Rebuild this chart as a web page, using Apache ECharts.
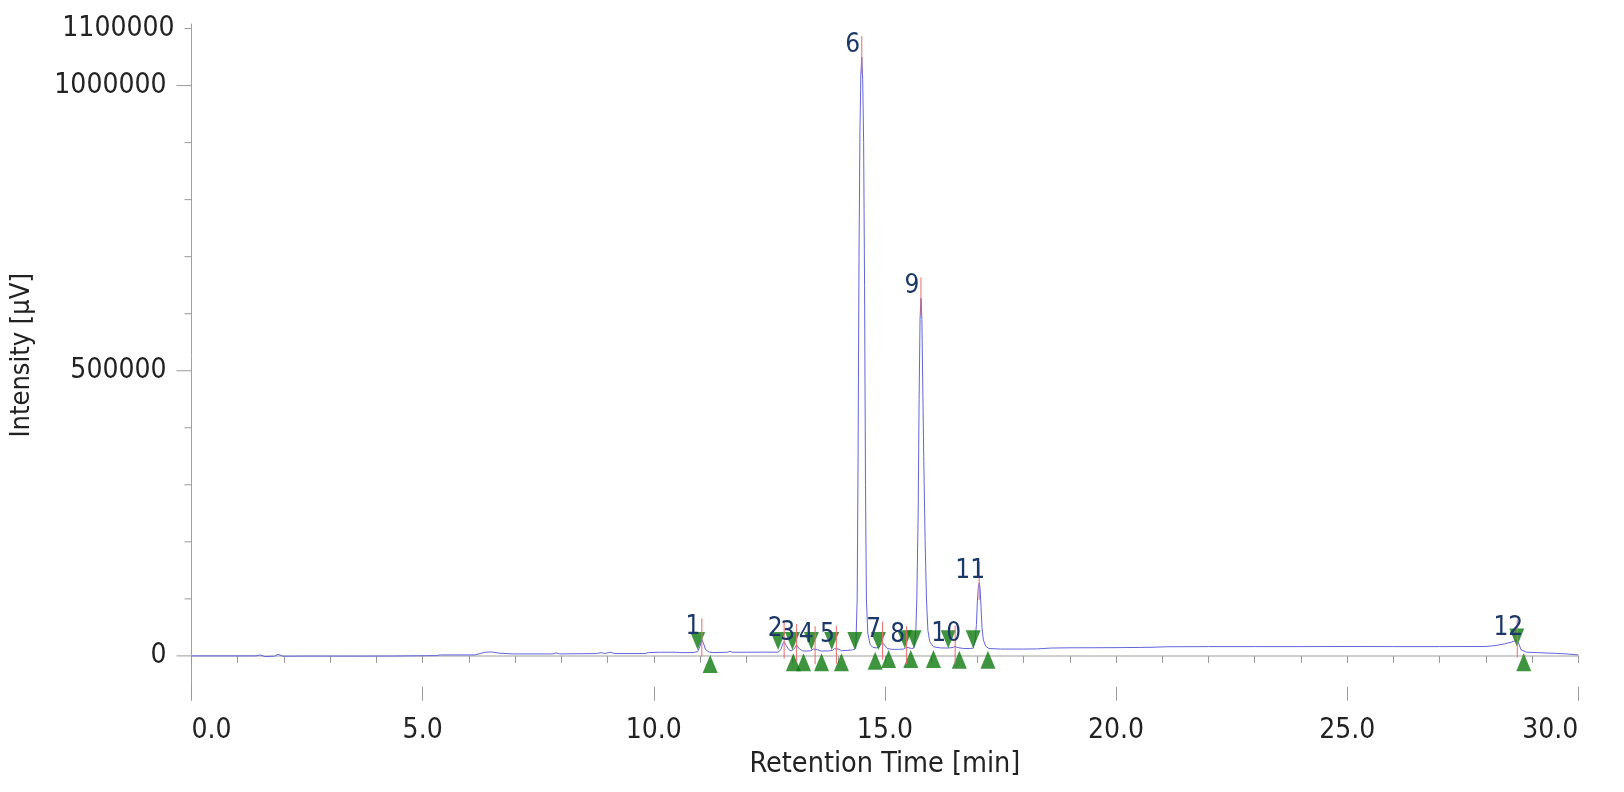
<!DOCTYPE html>
<html><head><meta charset="utf-8">
<script src="https://cdn.jsdelivr.net/npm/echarts@6/dist/echarts.min.js"></script>
<style>html,body{margin:0;padding:0;background:#fff}#c{width:1624px;height:792px}</style>
</head><body><div id="c"></div>
<script>
// ---- data ----
const traceT = [0.00,1.40,1.48,1.59,1.80,1.87,1.98,2.5,3.5,4.36,5.30,5.38,6.13,6.35,6.49,6.67,6.96,7.82,7.89,7.96,8.76,8.87,8.94,9.05,9.16,9.81,9.88,10.13,10.49,10.56,10.85,10.95,11.00,11.04,11.08,11.12,11.20,11.30,11.60,11.65,11.70,12.00,12.40,12.69,12.75,12.79,12.82,12.86,12.92,12.97,13.04,13.09,13.14,13.22,13.30,13.40,13.45,13.49,13.54,13.62,13.80,13.86,13.91,13.95,14.00,14.06,14.20,14.30,14.37,14.40,14.42,14.44,14.46,14.48,14.50,14.52,14.54,14.56,14.58,14.60,14.63,14.68,14.74,14.82,14.87,14.91,14.95,14.99,15.05,15.15,15.30,15.40,15.44,15.47,15.51,15.58,15.63,15.67,15.69,15.72,15.74,15.76,15.78,15.80,15.82,15.84,15.87,15.90,15.93,15.97,16.05,16.20,16.35,16.45,16.52,16.58,16.70,16.85,16.91,16.95,16.98,17.00,17.02,17.04,17.06,17.08,17.10,17.13,17.18,17.25,17.50,18.00,18.30,18.60,19.00,19.50,20.00,20.50,20.80,21.10,22.00,23.00,24.00,25.00,26.00,27.00,28.00,28.20,28.40,28.55,28.62,28.68,28.72,28.76,28.80,28.88,29.20,29.50,29.75,30.00];
const traceV = [0,0,1700,-1200,-500,2900,-600,-300,-400,-200,500,1700,1700,6400,7000,4700,3500,3500,5300,3500,4100,5800,4100,6400,4100,4100,5800,6400,6400,5800,5800,7500,17000,29000,21000,11000,6500,5800,6400,8000,6400,6400,6600,6500,11000,21000,25000,19000,11000,8700,12500,19300,13000,8800,8500,9000,12000,15200,11000,8500,8800,9500,12500,16000,12000,9000,9800,10500,13000,98000,350000,700000,920000,1020000,1050000,1010000,900000,650000,300000,98000,40000,20000,15000,14000,15500,19000,23300,19000,13000,11500,11500,12000,14000,15200,13500,12800,14000,45000,98000,250000,450000,590000,627000,590000,470000,350000,200000,98000,45000,25000,16000,14000,13800,14500,16300,14500,13000,13000,13500,25000,55000,95000,120000,128000,118000,85000,50000,28000,17000,13000,12000,12000,12300,13800,14200,14300,14500,14800,15200,16000,16300,16300,16300,16500,16300,16300,16500,18000,21000,24000,26000,26800,20000,11000,8000,6500,5500,4500,3500,1700];

const peakLabels = ['1','2','3','4','5','6','7','8','9','10','11','12'];
const peakT = [11.04,12.82,13.09,13.49,13.95,14.50,14.95,15.47,15.78,16.52,17.04,28.68];
const peakV = [29000,25000,19300,15200,16000,1050000,23300,15200,627000,16300,128000,26800];

const startT = [10.95,12.69,13.00,13.41,13.85,14.35,14.86,15.43,15.63,16.37,16.91,28.67];
const startV = [10500,10500,10500,10500,10500,10500,10500,13500,13500,13500,13500,16300];
const endT = [11.22,13.02,13.24,13.63,14.06,14.79,15.08,15.56,16.05,16.61,17.23,28.82];
const endV = [1750,4700,4700,4700,4700,7500,10500,10500,10500,9000,9000,4700];

const yTickValues = [0,100000,200000,300000,400000,500000,600000,700000,800000,900000,1000000,1100000];
const yTickLabels = ['0','','','','','500000','','','','','1000000','1100000'];

const xTitle = 'Retention Time [min]';
const yTitle = 'Intensity [µV]';

// ---- chart ----
const FONT = '"DejaVu Sans Condensed","Liberation Sans Narrow","DejaVu Sans",sans-serif';
const chart = echarts.init(document.getElementById('c'), null, {renderer: 'canvas'});

const traceData = traceT.map((t, i) => [t, traceV[i]]);

chart.setOption({
  animation: false,
  backgroundColor: '#fff',
  grid: {left: 191.5, right: 45.7, top: 24, bottom: 105.3, containLabel: false},
  xAxis: [
    {type: 'value', min: 0, max: 30, interval: 1, position: 'bottom',
     axisLine: {show: true, lineStyle: {color: '#cfcfcf', width: 2}},
     axisTick: {show: true, length: 7, lineStyle: {color: '#999', width: 1}},
     axisLabel: {show: false}, splitLine: {show: false}},
    {type: 'value', min: 0, max: 30, interval: 5, position: 'bottom',
     axisLine: {show: false},
     axisTick: {show: true, length: 14, lineStyle: {color: '#999', width: 1}},
     axisLabel: {show: true, formatter: v => v.toFixed(1), fontSize: 28, fontFamily: FONT, color: '#222', margin: 30,
                 alignMinLabel: 'left', alignMaxLabel: 'right'},
     splitLine: {show: false},
     name: xTitle, nameLocation: 'middle', nameGap: 63,
     nameTextStyle: {fontSize: 28.5, fontFamily: FONT, color: '#222'}}
  ],
  yAxis: {
    type: 'value', min: -54000, max: 1108000,
    axisLine: {show: true, lineStyle: {color: '#a0a0a0', width: 1}},
    axisTick: {show: false}, axisLabel: {show: false}, splitLine: {show: false},
    name: yTitle, nameLocation: 'middle', nameGap: 156,
    nameTextStyle: {fontSize: 27, fontFamily: FONT, color: '#222'}
  },
  series: [
    {type: 'line', xAxisIndex: 0, data: traceData, showSymbol: false, symbol: 'none', sampling: null,
     lineStyle: {color: '#6464dc', width: 1}, z: 2, silent: true},
    {type: 'scatter', xAxisIndex: 0, data: startT.map((t, i) => [t, startV[i]]),
     symbol: 'triangle', symbolSize: [15, 18], symbolRotate: 180, symbolOffset: [0, -9],
     itemStyle: {color: '#0f7a0f'}, z: 3, silent: true},
    {type: 'scatter', xAxisIndex: 0, data: endT.map((t, i) => [t, endV[i]]),
     symbol: 'triangle', symbolSize: [15, 18], symbolOffset: [0, 9],
     itemStyle: {color: '#0f7a0f'}, z: 3, silent: true},
    {type: 'custom', xAxisIndex: 0, clip: false, z: 4, silent: true,
     data: peakT.map((t, i) => [t, peakV[i]]),
     renderItem: (params, api) => {
       const p = api.coord([api.value(0), api.value(1)]);
       return {type: 'group', children: [
         {type: 'line', shape: {x1: p[0], y1: p[1] - 21, x2: p[0], y2: p[1] + 17},
          style: {stroke: '#ea6b6b', lineWidth: 1}},
         {type: 'text', x: p[0] - 9, y: p[1] + 1,
          style: {text: peakLabels[params.dataIndex], fontSize: 26, fontFamily: FONT, fill: '#1c3868',
                  align: 'center', verticalAlign: 'bottom'}}
       ]};
     }},
    {type: 'custom', xAxisIndex: 0, clip: false, z: 4, silent: true,
     data: yTickValues.map(v => [0, v]),
     renderItem: (params, api) => {
       const v = api.value(1);
       const p = api.coord([0, v]);
       const len = (v % 500000 === 0) ? 15 : 7;
       return {type: 'group', children: [
         {type: 'line', shape: {x1: p[0] - len, y1: p[1], x2: p[0], y2: p[1]},
          style: {stroke: '#999', lineWidth: 1}},
         {type: 'text', x: p[0] - len - 10, y: p[1],
          style: {text: yTickLabels[params.dataIndex], fontSize: 28, fontFamily: FONT, fill: '#222',
                  align: 'right', verticalAlign: 'middle'}}
       ]};
     }}
  ]
});
</script></body></html>
